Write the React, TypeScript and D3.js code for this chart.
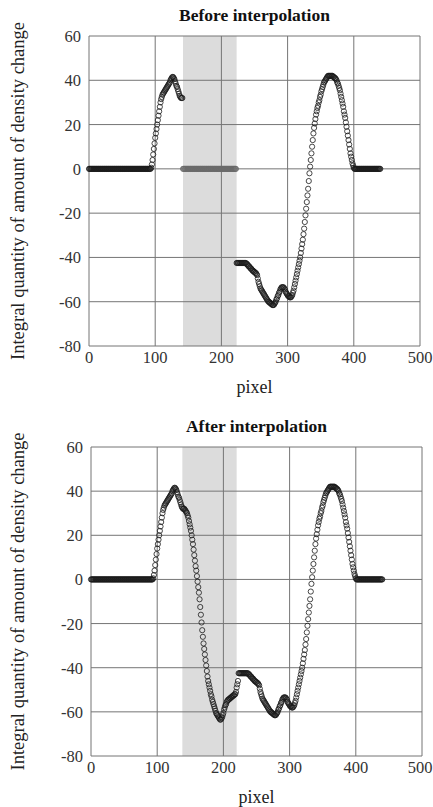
import React from 'react';
import { scaleLinear } from 'd3';

const X_TICKS = [0, 100, 200, 300, 400, 500];
const Y_TICKS = [-80, -60, -40, -20, 0, 20, 40, 60];

// integral quantity per pixel, pixel 0..141 (same in both charts)
const leftValues = [
  0, 0, 0, 0, 0, 0, 0, 0, 0, 0, 0, 0, 0, 0, 0, 0, 0, 0, 0, 0,
  0, 0, 0, 0, 0, 0, 0, 0, 0, 0, 0, 0, 0, 0, 0, 0, 0, 0, 0, 0,
  0, 0, 0, 0, 0, 0, 0, 0, 0, 0, 0, 0, 0, 0, 0, 0, 0, 0, 0, 0,
  0, 0, 0, 0, 0, 0, 0, 0, 0, 0, 0, 0, 0, 0, 0, 0, 0, 0, 0, 0,
  0, 0, 0, 0, 0, 0, 0, 0, 0, 0, 0, 0, 0, 0,
  0.5, 2, 4, 6.5, 9, 11.5, 14, 16, 18, 20,
  22, 24, 26, 28, 30, 31.5, 32.5, 33.5, 34, 34.5,
  35, 35.5, 36, 36.5, 37, 37.5, 38, 38.5, 39, 40,
  40.5, 41, 41.5, 41.5, 41, 40.5, 39.5, 38.5, 37.5, 37,
  36, 35, 34, 33, 32.5, 32, 32, 32
];

// pixel 142..222, missing part before interpolation
const gapBefore = [
  0, 0, 0, 0, 0, 0, 0, 0, 0, 0, 0, 0, 0, 0, 0, 0, 0, 0, 0, 0,
  0, 0, 0, 0, 0, 0, 0, 0, 0, 0, 0, 0, 0, 0, 0, 0, 0, 0, 0, 0,
  0, 0, 0, 0, 0, 0, 0, 0, 0, 0, 0, 0, 0, 0, 0, 0, 0, 0, 0, 0,
  0, 0, 0, 0, 0, 0, 0, 0, 0, 0, 0, 0, 0, 0, 0, 0, 0, 0, 0, 0,
  0
];

// pixel 142..222, after interpolation
const gapAfter = [
  31.5, 31, 30.5, 30, 29, 28, 26.5, 25, 23.5, 22,
  20, 18, 16, 13.5, 11, 8.5, 6, 4, 1.5, -1,
  -3.5, -6, -9, -12.5, -16, -19.5, -23, -26, -29, -31.5,
  -34, -36.5, -39, -41.5, -44, -46, -47.5, -49, -50.5, -52,
  -53, -54.5, -55.5, -56.5, -57.5, -58.5, -59.5, -60.5, -61, -61.5,
  -62, -62.5, -63, -63.5, -63.5, -63, -62.5, -61.5, -60.5, -59,
  -58, -57, -56.5, -55.5, -55, -54.5, -54.5, -54, -54, -53.5,
  -53.5, -53, -53, -52.5, -52.5, -52, -52, -51, -49, -47.5,
  -46
];

// pixel 223..440 (same in both charts)
const rightValues = [
  -42.5, -42.5, -42.5, -42.5, -42.5, -42.5, -42.5, -42.5, -42.5, -42.5,
  -42.5, -42.5, -42.5, -42.5, -42.5,
  -43, -43, -43.5, -44, -44, -44.5, -45, -45, -45.5, -46,
  -46, -46.5, -46.5, -47, -47, -47.5, -48, -49.5, -51, -52,
  -53, -54, -54.5, -55, -55.5, -56, -56.5, -57, -57.5, -58,
  -58.5, -59, -59.5, -60, -60, -60.5, -60.5, -61, -61, -61.5,
  -61.5, -61.5,
  -61, -60.5, -60, -59, -58.5, -57.5, -57, -56, -55.5, -54.5,
  -54, -53.5, -53.5, -53.5, -53.5, -54, -54.5, -55.5, -56, -56.5,
  -57, -57.5, -57.5, -58, -58, -58, -57.5, -57, -56, -55,
  -53.5, -52, -50.5, -49, -47.5, -46, -44.5, -43, -41.5, -40,
  -38, -36, -34, -32, -29.5, -27, -24, -21, -18, -15,
  -12, -9, -5.5, -2, 1, 4, 7, 10, 13, 16,
  18.5, 20.5, 22.5, 24.5, 26, 27.5, 28.5, 30, 31, 32.5,
  33.5, 35, 36, 37, 38, 39, 39.5, 40, 40.5, 41,
  41.5, 42, 42, 42, 42, 42, 42, 42, 42, 41.5,
  41.5, 41, 41, 40.5, 40, 39, 38.5, 37.5, 36.5, 35.5,
  34, 32.5, 31, 29.5, 28, 26, 24.5, 23, 21, 19,
  17, 15, 13, 11, 9, 7, 5.5, 4, 2.5, 1.5,
  0.5,
  0, 0, 0, 0, 0, 0, 0, 0, 0, 0, 0, 0, 0, 0, 0, 0, 0, 0, 0, 0,
  0, 0, 0, 0, 0, 0, 0, 0, 0, 0, 0, 0, 0, 0, 0, 0, 0, 0, 0, 0
];

const LEFT_START = 0;
const GAP_START = 142;
const RIGHT_START = 223;

// shaded (missing) pixel range in each chart
const shadeBefore = [142, 223];
const shadeAfter = [138, 220];

const toPoints = (values, start) => values.map((v, i) => ({ px: start + i, v }));

const FONT = '"Liberation Serif", "DejaVu Serif", serif';
const Y_LABEL = 'Integral quantity of amount of density change';
const WIDTH = 433;

const Chart = ({ frame, title, shade, series }) => {
  const x = scaleLinear().domain([0, 500]).range([frame.left, frame.right]);
  const y = scaleLinear().domain([-80, 60]).range([frame.bottom, frame.top]);
  const midX = (frame.left + frame.right) / 2;
  const midY = (frame.top + frame.bottom) / 2;

  return (
    <g>
      <rect
        x={x(shade[0])}
        y={frame.top}
        width={x(shade[1]) - x(shade[0])}
        height={frame.bottom - frame.top}
        fill="#dcdcdc"
      />
      {X_TICKS.map(t => (
        <line key={'gx' + t} x1={x(t)} x2={x(t)} y1={frame.top} y2={frame.bottom} stroke="#757575" strokeWidth={1} />
      ))}
      {Y_TICKS.map(t => (
        <line key={'gy' + t} x1={frame.left} x2={frame.right} y1={y(t)} y2={y(t)} stroke="#757575" strokeWidth={1} />
      ))}
      {series.map((s, si) =>
        s.points.map(p => (
          <circle
            key={si + '-' + p.px}
            cx={x(p.px)}
            cy={y(p.v)}
            r={2.6}
            fill="none"
            stroke={s.color}
            strokeWidth={0.8}
          />
        ))
      )}
      {Y_TICKS.map(t => (
        <text key={'ty' + t} x={frame.left - 8} y={y(t) + 6} textAnchor="end" fontSize={16.5} fill="#333">
          {t}
        </text>
      ))}
      {X_TICKS.map(t => (
        // keep the last label inside the page edge
        <text
          key={'tx' + t}
          x={Math.min(x(t), WIDTH - 13)}
          y={frame.bottom + 17}
          textAnchor="middle"
          fontSize={16.5}
          fill="#333"
        >
          {t}
        </text>
      ))}
      <text x={midX} y={frame.top - 15} textAnchor="middle" fontSize={17.5} fontWeight="bold" fill="#111">
        {title}
      </text>
      <text x={midX} y={frame.bottom + 47} textAnchor="middle" fontSize={18} fill="#222">
        pixel
      </text>
      <text
        transform={`translate(17.5, ${midY}) rotate(-90)`}
        textAnchor="middle"
        dominantBaseline="central"
        fontSize={18.5}
        fill="#222"
      >
        {Y_LABEL}
      </text>
    </g>
  );
};

const App = () => {
  const left = toPoints(leftValues, LEFT_START);
  const right = toPoints(rightValues, RIGHT_START);

  const before = [
    { points: toPoints(gapBefore, GAP_START), color: '#6a6a6a' },
    { points: left, color: '#1a1a1a' },
    { points: right, color: '#1a1a1a' }
  ];
  const after = [
    { points: left, color: '#1a1a1a' },
    { points: toPoints(gapAfter, GAP_START), color: '#1a1a1a' },
    { points: right, color: '#1a1a1a' }
  ];

  return (
    <svg
      width={WIDTH}
      height={807}
      style={{ position: 'absolute', left: 0, top: 0, background: '#fff' }}
      fontFamily={FONT}
    >
      <Chart
        frame={{ left: 89, right: 420, top: 36, bottom: 346 }}
        title="Before interpolation"
        shade={shadeBefore}
        series={before}
      />
      <Chart
        frame={{ left: 91, right: 422, top: 447, bottom: 756 }}
        title="After interpolation"
        shade={shadeAfter}
        series={after}
      />
    </svg>
  );
};

export default App;
